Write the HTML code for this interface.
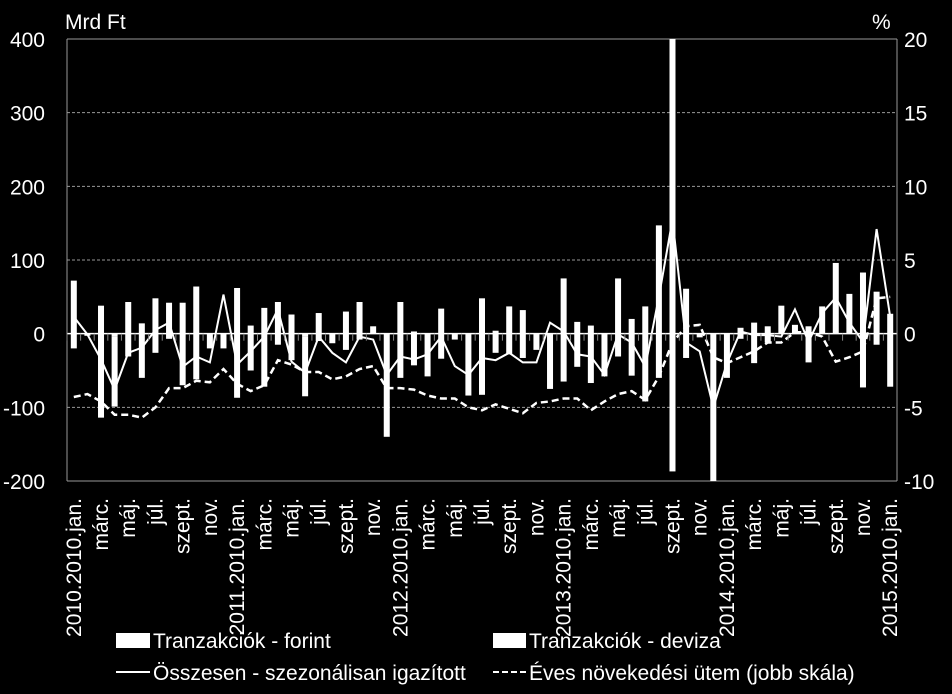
<!DOCTYPE html>
<html><head><meta charset="utf-8"><style>
html,body{margin:0;padding:0;background:#000;}
svg{display:block;font-family:"Liberation Sans",sans-serif;}
</style></head><body>
<svg id="chart" width="952" height="694" viewBox="0 0 952 694">
<g id="grid"></g>
<g id="bars"></g>
<g id="lines"></g>
<g id="axes"></g>
<text x="65" y="29" fill="#fff" font-size="21">Mrd Ft</text>
<text x="872" y="29" fill="#fff" font-size="21">%</text>
<g>
<g><rect x="116" y="633" width="34" height="15" fill="#fff"/><text x="153" y="648" fill="#fff" font-size="21">Tranzakciók - forint</text></g>
<g><rect x="493" y="633" width="33" height="15" fill="#fff"/><text x="529" y="648" fill="#fff" font-size="21">Tranzakciók - deviza</text></g>
<g><line x1="116" y1="672" x2="150" y2="672" stroke="#fff" stroke-width="2"/><text x="153" y="680" fill="#fff" font-size="21">Összesen - szezonálisan igazított</text></g>
<g><line x1="493" y1="672" x2="526" y2="672" stroke="#fff" stroke-width="2" stroke-dasharray="6,3"/><text x="529" y="680" fill="#fff" font-size="21">Éves növekedési ütem (jobb skála)</text></g>
</g>
</svg>
<script>
const months = ["2010.jan.","febr.","márc.","ápr.","máj.","jún.","júl.","aug.","szept.","okt.","nov.","dec."];
const years = [2010,2011,2012,2013,2014,2015];
const forint = [72,-2,38,-4,43,14,48,42,42,64,0,0,62,11,35,43,26,-4,28,0,30,43,10,0,43,3,0,34,0,0,48,4,37,32,0,0,75,16,11,0,75,20,37,147,400,61,0,0,0,8,15,10,38,12,10,37,96,54,83,57,27];
const deviza = [-20,-1,-114,-95,-31,-60,-26,-7,-70,-62,-20,-20,-87,-50,-72,-15,-36,-81,-10,-13,-22,-8,0,-140,-60,-43,-58,-34,-8,-84,-83,-26,-28,-33,-22,-75,-65,-45,-67,-58,-31,-57,-92,-60,-187,-33,-5,-200,-60,-7,-40,-12,0,0,-39,0,0,0,-73,-15,-72];
const total = [23,-1,-35,-76,-26,-19,5,15,-45,-31,-39,53,-42,-24,-4,33,-38,-53,-4,-26,-39,-4,-8,-56,-31,-35,-28,-4,-44,-56,-33,-36,-26,-39,-39,15,3,-28,-31,-56,-1,-12,-45,50,155,-12,-24,-100,-40,3,-2,-2,-4,33,-11,28,49,15,-11,142,23];
const growth = [-4.3,-4.1,-4.6,-5.5,-5.5,-5.7,-5.0,-3.7,-3.7,-3.2,-3.3,-2.4,-3.4,-3.9,-3.5,-1.8,-2.1,-2.6,-2.6,-3.1,-2.9,-2.4,-2.2,-3.7,-3.7,-3.8,-4.2,-4.4,-4.4,-5.0,-5.2,-4.8,-5.1,-5.4,-4.7,-4.6,-4.4,-4.4,-5.2,-4.6,-4.1,-3.9,-4.5,-2.9,-0.6,0.5,0.6,-1.6,-2.0,-1.6,-1.2,-0.6,-0.6,0.1,0.1,-0.2,-1.9,-1.6,-1.2,2.4,2.5];
const leftTicks = [400,300,200,100,0,-100,-200];
const rightTicks = [20,15,10,5,0,-5,-10];

const NS="http://www.w3.org/2000/svg";
const X0=67,X1=897,Y0=39,Y1=481;
const N=forint.length;
const band=(X1-X0)/N;
function xc(i){return X0+band*(i+0.5);}
function yl(v){v=Math.max(-200,Math.min(400,v));return Y1-(v+200)/600*(Y1-Y0);}
function yr(v){return Y1-(v+10)/30*(Y1-Y0);}
function mk(tag,attrs,parent){const e=document.createElementNS(NS,tag);for(const k in attrs)e.setAttribute(k,attrs[k]);parent.appendChild(e);return e;}
const grid=document.getElementById('grid'),bars=document.getElementById('bars'),lines=document.getElementById('lines'),axes=document.getElementById('axes');

leftTicks.forEach(t=>{
  const y=yl(t);
  const g=mk('line',{x1:X0,x2:X1,y1:y,y2:y,stroke:t===0?'#fff':'#999','stroke-width':t===0?1.5:1,'stroke-dasharray':(t===400||t===-200||t===0)?'none':'3,2'},grid);
  
  
  const tx=mk('text',{x:45,y:y+8,fill:'#fff','font-size':21,'text-anchor':'end'},axes);
  tx.textContent=t;
  
  
});
rightTicks.forEach(t=>{
  const tx=mk('text',{x:904,y:yr(t)+8,fill:'#fff','font-size':21},axes);
  tx.textContent=t;
  
  
});
mk('line',{x1:X0,x2:X0,y1:Y0,y2:Y1,stroke:'#999','stroke-width':1},axes);
mk('line',{x1:X1,x2:X1,y1:Y0,y2:Y1,stroke:'#999','stroke-width':1},axes);

for(let i=0;i<N;i++){
  const x=xc(i);
  const tk=mk('line',{x1:X0+band*i,x2:X0+band*i,y1:yl(0),y2:yl(0)+7,stroke:'#888','stroke-width':1},axes);
  
  
  // stacked bars
  let pos=0,neg=0;
  [forint[i],deviza[i]].forEach((v,k)=>{
    let a,b;
    if(v>=0){a=pos;b=pos+v;pos=b;}else{a=neg;b=neg+v;neg=b;}
    const yt=Math.min(yl(a),yl(b)),h=Math.abs(yl(a)-yl(b));
    const r=mk('rect',{x:x-3,y:yt,width:6,height:h,fill:'#fff'},bars);
    
    
  });
  if(i%2===0){
    const m=i%12,yIdx=Math.floor(i/12);
    const lab=m===0?years[yIdx]+'.'+months[0]:months[m];
    const t=mk('text',{x:0,y:0,fill:'#fff','font-size':21,'text-anchor':'end',transform:`translate(${x+7},498) rotate(-90)`},axes);
    t.textContent=lab;
    
    
  }
}
const p1=mk('polyline',{points:total.map((v,i)=>xc(i)+','+yl(v)).join(' '),fill:'none',stroke:'#fff','stroke-width':2},lines);


const p2=mk('polyline',{points:growth.map((v,i)=>xc(i)+','+yr(v)).join(' '),fill:'none',stroke:'#fff','stroke-width':2.5,'stroke-dasharray':'7,4'},lines);


</script>
</body></html>
